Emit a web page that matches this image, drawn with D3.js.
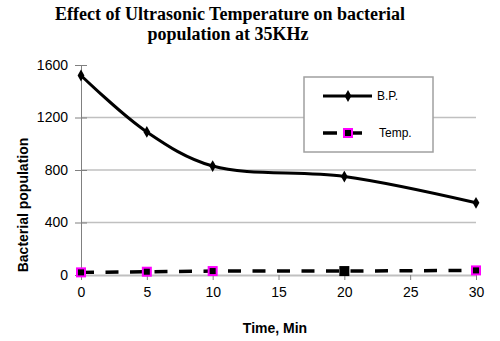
<!DOCTYPE html>
<html>
<head>
<meta charset="utf-8">
<script src="https://cdn.jsdelivr.net/npm/d3@7"></script>
<style>
  body { margin: 0; background: #fff; }
  svg { display: block; }
</style>
</head>
<body>
<div id="chart"></div>
<script>
// data
var times = [0, 5, 10, 20, 30];
var bacterialPop = [1520, 1090, 830, 750, 550];
var temperature = [20, 25, 30, 30, 35];
var xTicks = [0, 5, 10, 15, 20, 25, 30];
var yTicks = [0, 400, 800, 1200, 1600];

var W = 500, H = 341;
var margin = {t: 65, r: 24, b: 66, l: 81},
	pw = W - margin.l - margin.r,
	ph = H - margin.t - margin.b;

var sans = "'Liberation Sans', Arial, sans-serif";

var svg = d3.select("#chart").append("svg")
	.attr("width", W)
	.attr("height", H);

// title
var title = svg.append("text")
	.attr("text-anchor", "middle")
	.style("font-family", "'Liberation Serif', 'Times New Roman', serif")
	.style("font-weight", "bold")
	.style("font-size", "18px");
title.append("tspan").attr("x", 230).attr("y", 20).text("Effect of Ultrasonic Temperature on bacterial");
title.append("tspan").attr("x", 228).attr("y", 40).text("population at 35KHz");

var g = svg.append("g")
	.attr("transform", "translate(" + margin.l + "," + margin.t + ")");

var x = d3.scaleLinear().domain([0, 30]).range([0, pw]);
var y = d3.scaleLinear().domain([0, 1600]).range([ph, 0]);

// gridlines (no line at the top value)
g.selectAll(".grid")
	.data(yTicks.filter(function(d) { return d > 0 && d < 1600; }))
	.enter().append("line")
	.attr("x1", 0).attr("x2", pw)
	.attr("y1", function(d) { return y(d); })
	.attr("y2", function(d) { return y(d); })
	.attr("stroke", "#c0c0c0")
	.attr("stroke-width", 1.5);

// y axis, cross ticks
var yAxis = g.append("g")
	.call(d3.axisLeft(y).tickValues(yTicks).tickFormat(d3.format("d"))
		.tickSize(6).tickSizeOuter(0).tickPadding(7));
yAxis.select(".domain").attr("stroke", "#808080").attr("stroke-width", 1);
yAxis.selectAll(".tick line").attr("x1", 6).attr("stroke", "#808080");
yAxis.selectAll("text")
	.style("font-family", sans)
	.style("font-size", "14px")
	.attr("fill", "#000");

// x axis
var xAxis = g.append("g")
	.attr("transform", "translate(0," + ph + ")")
	.call(d3.axisBottom(x).tickValues(xTicks).tickSize(5).tickSizeOuter(0).tickPadding(7));
xAxis.select(".domain").attr("stroke", "#c0c0c0").attr("stroke-width", 2);
xAxis.selectAll(".tick line").attr("stroke", "#808080");
xAxis.selectAll("text")
	.style("font-family", sans)
	.style("font-size", "14px")
	.attr("fill", "#000");

// axis titles
svg.append("text")
	.attr("transform", "translate(28,205)rotate(-90)")
	.attr("text-anchor", "middle")
	.style("font-family", sans)
	.style("font-weight", "bold")
	.style("font-size", "14px")
	.text("Bacterial population");

svg.append("text")
	.attr("x", 275)
	.attr("y", 333)
	.attr("text-anchor", "middle")
	.style("font-family", sans)
	.style("font-weight", "bold")
	.style("font-size", "14px")
	.text("Time, Min");

// temperature series (dashed)
var tempPts = times.map(function(t, i) { return [t, temperature[i]]; });
var line = d3.line()
	.x(function(d) { return x(d[0]); })
	.y(function(d) { return y(d[1]); });

g.append("path")
	.datum(tempPts)
	.attr("fill", "none")
	.attr("stroke", "#000")
	.attr("stroke-width", 3.5)
	.attr("stroke-dasharray", "13,11.5")
	.attr("d", line);

g.selectAll(".tmark")
	.data(tempPts)
	.enter().append("rect")
	.attr("x", function(d) { return x(d[0]) - 4; })
	.attr("y", function(d) { return y(d[1]) - 4; })
	.attr("width", 8).attr("height", 8)
	.attr("fill", "#000")
	.attr("stroke", function(d) { return d[0] === 20 ? "#000" : "#ff00ff"; })
	.attr("stroke-width", 2);

// bacterial population series (smoothed)
var bpPts = times.map(function(t, i) { return [t, bacterialPop[i]]; });
g.append("path")
	.datum(bpPts)
	.attr("fill", "none")
	.attr("stroke", "#000")
	.attr("stroke-width", 3)
	.attr("d", line.curve(d3.curveCatmullRom.alpha(0.5)));

var diamond = d3.symbol().type(d3.symbolDiamond).size(40);
g.selectAll(".bmark")
	.data(bpPts)
	.enter().append("path")
	.attr("transform", function(d) { return "translate(" + x(d[0]) + "," + y(d[1]) + ")"; })
	.attr("d", diamond)
	.attr("fill", "#000");

// legend
var lg = svg.append("g").attr("transform", "translate(304,77)");
lg.append("rect")
	.attr("width", 129).attr("height", 75)
	.attr("fill", "#fff")
	.attr("stroke", "#a0a0a0")
	.attr("stroke-width", 1.5);

lg.append("line")
	.attr("x1", 19).attr("x2", 68).attr("y1", 19).attr("y2", 19)
	.attr("stroke", "#000").attr("stroke-width", 3);
lg.append("path")
	.attr("transform", "translate(44,19)")
	.attr("d", diamond)
	.attr("fill", "#000");
lg.append("text")
	.attr("x", 73).attr("y", 23)
	.style("font-family", sans)
	.style("font-size", "12px")
	.text("B.P.");

lg.append("line")
	.attr("x1", 19).attr("x2", 58).attr("y1", 56).attr("y2", 56)
	.attr("stroke", "#000").attr("stroke-width", 3.5)
	.attr("stroke-dasharray", "14,25");
lg.append("line")
	.attr("x1", 49).attr("x2", 58).attr("y1", 56).attr("y2", 56)
	.attr("stroke", "#000").attr("stroke-width", 3.5);
lg.append("rect")
	.attr("x", 40).attr("y", 52)
	.attr("width", 8).attr("height", 8)
	.attr("fill", "#000")
	.attr("stroke", "#ff00ff")
	.attr("stroke-width", 2);
lg.append("text")
	.attr("x", 75).attr("y", 60)
	.style("font-family", sans)
	.style("font-size", "12px")
	.text("Temp.");
</script>
</body>
</html>
